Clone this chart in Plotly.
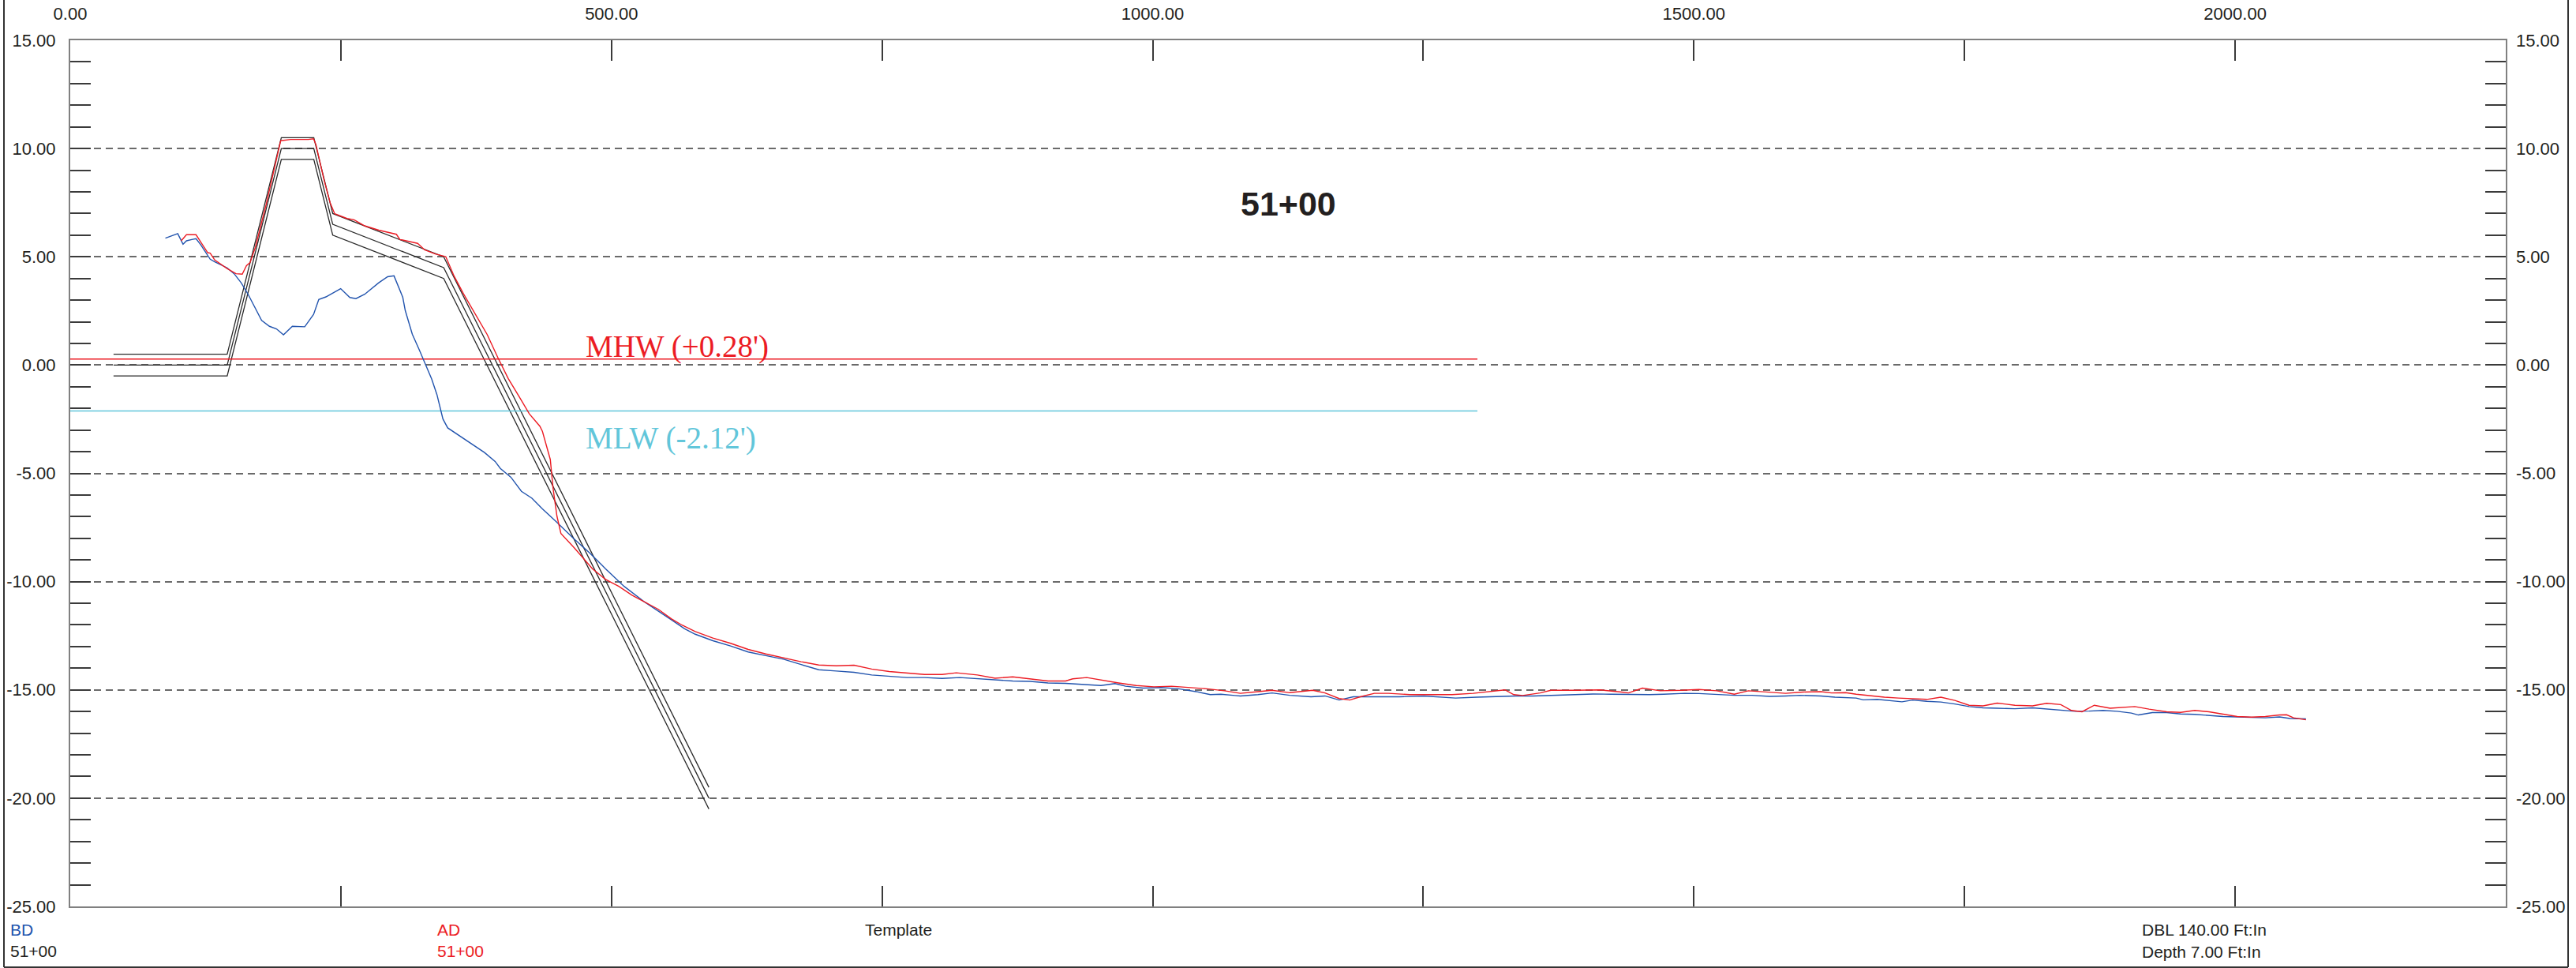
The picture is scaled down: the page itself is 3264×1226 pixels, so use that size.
import plotly.graph_objects as go

# ---------------- data ----------------
X_TICKS = [0, 250, 500, 750, 1000, 1250, 1500, 1750, 2000, 2250]
X_LABELS = ["0.00", "", "500.00", "", "1000.00", "", "1500.00", "", "2000.00", ""]
Y_MAJOR = [-25, -20, -15, -10, -5, 0, 5, 10, 15]
Y_LABELS = ["-25.00", "-20.00", "-15.00", "-10.00", "-5.00", "0.00", "5.00", "10.00", "15.00"]

TEMPLATE_X = [40, 145, 195, 225, 242.5, 345, 590]
TEMPLATE_UPPER = [0.5, 0.5, 10.5, 10.5, 7.0, 5.0, -19.5]
TEMPLATE_MID = [0.0, 0.0, 10.0, 10.0, 6.5, 4.5, -20.0]
TEMPLATE_LOWER = [-0.5, -0.5, 9.5, 9.5, 6.0, 4.0, -20.5]

BD_X = [87.9, 99.3, 104.2, 107.4, 112.3, 116.2, 120.5, 125.4, 129.3, 133.5, 144.9, 151.4,
        157.9, 164.5, 171.0, 176.8, 184.0, 190.5, 197.0, 205.2, 216.6, 224.8, 229.6, 236.2,
        249.8, 258.3, 263.9, 272.0, 285.0, 293.2, 299.1, 307.2, 309.5, 316.0, 322.5, 329.0,
        333.9, 338.8, 344.3, 348.7, 358.4, 373.0, 382.7, 392.5, 397.3, 407.1, 416.8, 426.5,
        436.2, 448.4, 465.4, 480.0, 494.6, 511.7, 531.1, 555.5, 567.6,
        577.4, 593.7, 610.0, 626.3, 642.6, 658.9, 675.2, 691.5, 707.8, 724.1, 740.4, 756.6,
        772.9, 789.2, 805.5, 821.8, 838.1, 854.4, 870.7, 887.0, 903.3, 919.6, 935.9, 952.2,
        965.2, 975.0, 991.3, 1007.6, 1023.9, 1040.2, 1053.2, 1063.0, 1076.0,
        1081.0, 1097.3, 1110.3, 1126.6, 1146.2, 1159.2, 1172.3, 1185.3, 1204.8, 1227.7,
        1250.5, 1263.5, 1279.8, 1299.4, 1315.6, 1335.2, 1351.5, 1367.8, 1387.3, 1406.9,
        1423.2, 1439.5, 1459.0, 1472.1, 1491.6, 1504.7, 1521.0, 1537.3, 1553.6, 1569.9,
        1584.7, 1597.7, 1617.3, 1630.3, 1649.9, 1656.4, 1669.4, 1682.5, 1692.2, 1702.0,
        1715.1, 1728.1, 1741.1, 1754.2, 1767.2, 1780.2, 1796.5, 1812.8, 1825.9, 1838.9,
        1852.0, 1865.0, 1878.0, 1891.0, 1904.1, 1910.6, 1923.6, 1936.7, 1949.7, 1962.7,
        1975.8, 1988.8, 2001.9, 2014.9, 2027.9, 2041.0, 2050.7, 2065.4]
BD_Y = [5.86, 6.07, 5.58, 5.74, 5.80, 5.84, 5.56, 5.19, 4.89, 4.77, 4.49, 4.22,
        3.80, 3.25, 2.64, 2.06, 1.79, 1.67, 1.40, 1.79, 1.77, 2.34, 3.03, 3.15,
        3.53, 3.12, 3.07, 3.27, 3.80, 4.08, 4.12, 3.13, 2.52, 1.43, 0.70, -0.03,
        -0.64, -1.37, -2.49, -2.90, -3.22, -3.71, -4.04, -4.45, -4.77, -5.18, -5.83, -6.15,
        -6.64, -7.21, -8.03, -8.68, -9.41, -10.22, -10.96, -11.77, -12.18,
        -12.43, -12.73, -12.97, -13.25, -13.42, -13.58, -13.83, -14.07, -14.13, -14.19, -14.31, -14.37,
        -14.43, -14.43, -14.47, -14.43, -14.49, -14.55, -14.59, -14.61, -14.68, -14.70, -14.74, -14.80,
        -14.71, -14.83, -14.92, -14.89, -14.95, -15.08, -15.22, -15.20, -15.26,
        -15.28, -15.22, -15.14, -15.25, -15.32, -15.28, -15.47, -15.32, -15.32, -15.32,
        -15.28, -15.32, -15.38, -15.34, -15.31, -15.28, -15.28, -15.25, -15.20, -15.19,
        -15.20, -15.22, -15.22, -15.20, -15.16, -15.17, -15.20, -15.25, -15.25, -15.30,
        -15.28, -15.25, -15.28, -15.34, -15.38, -15.46, -15.44, -15.50, -15.55, -15.47,
        -15.53, -15.56, -15.65, -15.77, -15.83, -15.85, -15.87, -15.83, -15.89, -15.93,
        -15.99, -15.98, -15.95, -15.99, -16.07, -16.16, -16.05, -16.05, -16.11, -16.13,
        -16.19, -16.23, -16.25, -16.28, -16.29, -16.25, -16.32, -16.34]

AD_X = [102.5, 107.4, 116.2, 127.0, 129.3, 133.5, 144.9, 153.1, 158.9, 162.8, 166.1, 171.0,
        180.8, 194.4, 203.6, 219.9, 224.8, 227.0, 234.5, 240.1, 244.3, 255.7, 262.2, 272.0,
        285.0, 301.3, 304.6, 320.9, 327.4, 337.2, 346.9, 354.7, 363.3, 373.0, 385.2, 394.9,
        404.6, 414.4, 424.1, 433.8, 436.2, 443.5, 446.0, 449.6, 453.3, 465.4, 472.7, 482.5,
        494.6, 506.8, 519.0, 531.1, 543.3, 555.5, 565.2,
        577.4, 593.7, 610.0, 626.3, 642.6, 658.9, 675.2, 691.5, 707.8, 724.1, 740.4, 756.6,
        772.9, 789.2, 805.5, 818.6, 838.1, 854.4, 870.7, 887.0, 903.3, 919.6, 926.1, 939.1,
        952.2, 968.5, 984.8, 1001.1, 1017.4, 1033.7, 1050.0, 1066.3, 1076.0,
        1081.0, 1097.3, 1110.3, 1126.6, 1136.4, 1147.8, 1159.2, 1172.3, 1182.0, 1191.8,
        1204.8, 1217.9, 1237.4, 1257.0, 1276.5, 1296.1, 1309.1, 1325.4, 1333.6, 1341.7,
        1358.0, 1367.8, 1390.6, 1413.4, 1433.0, 1439.5, 1452.5, 1468.8, 1488.4, 1504.7,
        1521.0, 1537.3, 1550.3, 1569.9,
        1584.7, 1601.0, 1617.3, 1627.1, 1640.1, 1649.9, 1662.9, 1676.0, 1689.0, 1702.0,
        1715.1, 1728.1, 1741.1, 1754.2, 1767.2, 1780.2, 1796.5, 1812.8, 1825.9, 1838.9,
        1848.7, 1858.5, 1869.9, 1884.5, 1897.6, 1907.3, 1920.4, 1936.7, 1949.7, 1962.7,
        1975.8, 1988.8, 2001.9, 2014.9, 2027.9, 2041.0, 2047.5, 2054.0, 2065.4]
AD_Y = [5.74, 6.02, 6.02, 5.19, 5.17, 4.85, 4.46, 4.22, 4.20, 4.59, 4.73, 5.44,
        7.38, 10.36, 10.42, 10.42, 10.45, 10.18, 8.54, 7.50, 6.99, 6.77, 6.71, 6.43,
        6.23, 6.04, 5.80, 5.62, 5.32, 5.13, 5.01, 4.10, 3.29, 2.47, 1.41, 0.36,
        -0.62, -1.43, -2.25, -2.82, -3.06, -4.36, -5.67, -6.97, -7.78, -8.43, -8.84, -9.41,
        -9.90, -10.22, -10.63, -10.96, -11.28, -11.72, -12.01,
        -12.31, -12.61, -12.85, -13.13, -13.34, -13.52, -13.70, -13.85, -13.89, -13.86, -14.04, -14.15,
        -14.23, -14.29, -14.29, -14.21, -14.31, -14.46, -14.40, -14.49, -14.59, -14.59, -14.49, -14.43,
        -14.55, -14.68, -14.80, -14.86, -14.83, -14.88, -14.95, -15.04, -15.13,
        -15.16, -15.08, -15.02, -15.13, -15.08, -15.02, -15.14, -15.40, -15.47, -15.32,
        -15.16, -15.16, -15.22, -15.22, -15.22, -15.16, -15.10, -15.00, -15.22, -15.26,
        -15.14, -15.02, -15.02, -15.00, -15.10, -15.14, -14.92, -15.04, -15.02, -14.98,
        -15.04, -15.20, -15.04, -15.12,
        -15.16, -15.10, -15.08, -15.14, -15.13, -15.20, -15.28, -15.34, -15.38, -15.40,
        -15.44, -15.34, -15.49, -15.71, -15.74, -15.61, -15.71, -15.74, -15.62, -15.68,
        -15.95, -16.01, -15.71, -15.85, -15.81, -15.77, -15.89, -16.01, -16.04, -15.95,
        -16.01, -16.13, -16.23, -16.26, -16.23, -16.16, -16.15, -16.29, -16.38]

MHW_X = [0, 1300]
MHW_Y = [0.28, 0.28]
MLW_X = [0, 1300]
MLW_Y = [-2.12, -2.12]

# ---------------- style ----------------
W, H = 3264, 1226
L, R, T, B = 89, 3175, 51, 1148          # plot-area pixel box
FONT = "Liberation Sans, Arial, sans-serif"
SERIF = "Liberation Serif, Times New Roman, serif"
BLUE = "#2254AE"
RED = "#EC1C24"
CYAN = "#62C6DA"
BLACK = "#2a2a2a"
FRAME = "#808080"
TICK = "#3a3a3a"


def px_x(p):
    return (p - L) / (R - L)


def px_y(p):
    return (B - p) / (B - T)


fig = go.Figure()

for ys in (TEMPLATE_UPPER, TEMPLATE_MID, TEMPLATE_LOWER):
    fig.add_trace(go.Scatter(x=TEMPLATE_X, y=ys, mode="lines",
                             line=dict(color=BLACK, width=1.3), hoverinfo="skip"))

fig.add_trace(go.Scatter(x=MHW_X, y=MHW_Y, mode="lines",
                         line=dict(color=RED, width=1.4), hoverinfo="skip"))
fig.add_trace(go.Scatter(x=MLW_X, y=MLW_Y, mode="lines",
                         line=dict(color=CYAN, width=1.4), hoverinfo="skip"))
fig.add_trace(go.Scatter(x=BD_X, y=BD_Y, mode="lines", name="BD",
                         line=dict(color=BLUE, width=1.4)))
fig.add_trace(go.Scatter(x=AD_X, y=AD_Y, mode="lines", name="AD",
                         line=dict(color=RED, width=1.4)))
# anchor trace for the mirrored (top / right) axes
fig.add_trace(go.Scatter(x=[None], y=[None], xaxis="x2", yaxis="y2",
                         mode="lines", hoverinfo="skip"))

tickfont = dict(family=FONT, size=22, color="#231f20")
minor_y = dict(ticks="inside", ticklen=26, tickcolor=TICK, tickwidth=1.5,
               tickmode="linear", tick0=0, dtick=1, showgrid=False)

fig.update_layout(
    width=W, height=H,
    margin=dict(l=L, r=W - R, t=T, b=H - B, pad=0, autoexpand=False),
    paper_bgcolor="white", plot_bgcolor="white",
    showlegend=False,
    xaxis=dict(range=[0, 2250], showline=True, linecolor=FRAME, linewidth=2, mirror=True,
               tickmode="array", tickvals=X_TICKS, ticks="inside", ticklen=26,
               tickcolor=TICK, tickwidth=1.5, showticklabels=False, automargin=False,
               showgrid=False, zeroline=False),
    xaxis2=dict(range=[0, 2250], overlaying="x", side="top", anchor="y",
                tickmode="array", tickvals=X_TICKS, ticktext=X_LABELS,
                ticks="inside", ticklen=26, tickcolor=TICK, tickwidth=1.5,
                tickfont=tickfont, ticklabelstandoff=21, automargin=False,
                showgrid=False, zeroline=False, showline=False),
    yaxis=dict(range=[-25, 15], showline=True, linecolor=FRAME, linewidth=2, mirror=True,
               tickmode="array", tickvals=Y_MAJOR, ticktext=Y_LABELS,
               ticks="inside", ticklen=26, tickcolor=TICK, tickwidth=1.5,
               tickfont=tickfont, ticklabelstandoff=12, automargin=False,
               showgrid=True, gridcolor="#6a6a6a", gridwidth=1.5, griddash="9px,6px",
               zeroline=False, minor=minor_y),
    yaxis2=dict(range=[-25, 15], overlaying="y", side="right", anchor="x",
                tickmode="array", tickvals=Y_MAJOR, ticktext=Y_LABELS,
                ticks="inside", ticklen=26, tickcolor=TICK, tickwidth=1.5,
                tickfont=tickfont, ticklabelstandoff=12, automargin=False,
                showgrid=False, zeroline=False, showline=False, minor=minor_y),
)

# outer border (left, right, bottom)
for x0, y0, x1, y1 in [(5, 0, 5, 1225), (3254, 0, 3254, 1225), (5, 1225, 3254, 1225)]:
    fig.add_shape(type="line", xref="paper", yref="paper",
                  x0=px_x(x0), y0=px_y(y0), x1=px_x(x1), y1=px_y(y1),
                  line=dict(color="#333", width=2))

# text in the plot
fig.add_annotation(x=1125.5, y=7.45, xref="x", yref="y", text="<b>51+00</b>",
                   showarrow=False, font=dict(family=FONT, size=43, color="#231f20"))
fig.add_annotation(x=475, y=0.86, xref="x", yref="y", text="MHW (+0.28')",
                   xanchor="left", yanchor="middle", showarrow=False,
                   font=dict(family=SERIF, size=39, color=RED))
fig.add_annotation(x=475, y=-3.37, xref="x", yref="y", text="MLW (-2.12')",
                   xanchor="left", yanchor="middle", showarrow=False,
                   font=dict(family=SERIF, size=39, color=CYAN))

# footer labels
footer = [
    ("BD", 11, 1177, BLUE), ("51+00", 11, 1204, "#231f20"),
    ("AD", 552, 1177, RED), ("51+00", 552, 1204, RED),
    ("Template", 1094, 1177, "#231f20"),
    ("DBL 140.00 Ft:In", 2712, 1177, "#231f20"), ("Depth 7.00 Ft:In", 2712, 1205, "#231f20"),
]
for txt, x, y, col in footer:
    fig.add_annotation(x=px_x(x), y=px_y(y), xref="paper", yref="paper", text=txt,
                       xanchor="left", yanchor="middle", showarrow=False,
                       font=dict(family=FONT, size=21, color=col))

fig.write_html("out.html", config={"displayModeBar": False},
               post_script="document.body.style.margin='0';document.body.style.overflow='hidden';")
